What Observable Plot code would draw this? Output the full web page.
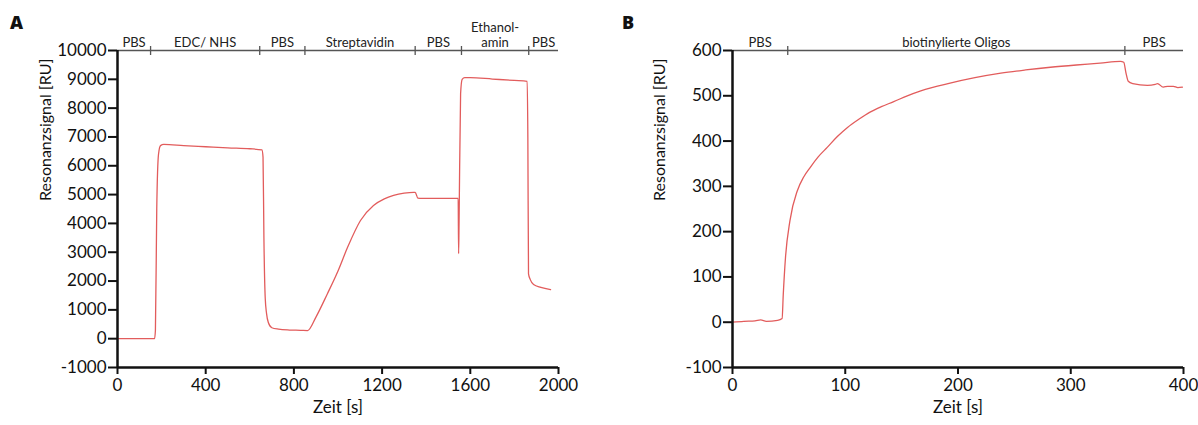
<!DOCTYPE html>
<html>
<head>
<meta charset="utf-8">
<script src="https://cdn.jsdelivr.net/npm/d3@7"></script>
<script src="https://cdn.jsdelivr.net/npm/@observablehq/plot@0.6"></script>
<style>
  html, body { margin: 0; padding: 0; background: #fff; }
  #wrap { position: relative; width: 1198px; height: 425px; overflow: hidden; font-family: Lato, "Open Sans", sans-serif; }
  .panel { position: absolute; top: 0; width: 599px; height: 425px; }
  .letter { position: absolute; top: 10px; font-weight: 900; font-size: 18px; font-family: "Open Sans", Lato, sans-serif; color: #111; }
</style>
</head>
<body>
<div id="wrap">
  <div class="panel" id="pa" style="left:0"></div>
  <div class="panel" id="pb" style="left:599px"></div>
  <div class="letter" style="left:10px">A</div>
  <div class="letter" style="left:622px">B</div>
</div>
<script>
// ---- Panel A data ----
const aTime   = [0, 100, 168, 172, 178, 186, 195, 210, 300, 400, 500, 600, 655, 660, 664, 670, 676, 684, 700, 730, 780, 830, 862, 900, 952, 1000, 1043, 1102, 1161, 1210, 1252, 1300, 1343, 1350, 1362, 1380, 1450, 1545, 1547, 1549, 1556, 1563, 1575, 1600, 1700, 1800, 1858, 1861, 1864, 1872, 1887, 1920, 1964];
const aSignal = [0, 0, 0, 300, 4500, 6400, 6700, 6740, 6700, 6660, 6620, 6590, 6550, 6300, 3500, 1400, 870, 560, 380, 330, 300, 290, 280, 750, 1560, 2350, 3160, 4100, 4620, 4850, 4970, 5050, 5080, 5080, 4880, 4870, 4870, 4870, 2950, 4000, 8500, 9000, 9060, 9060, 9010, 8960, 8930, 7000, 2250, 2050, 1880, 1780, 1700];
const aXTicks = [0, 400, 800, 1200, 1600, 2000];
const aYTicks = [-1000, 0, 1000, 2000, 3000, 4000, 5000, 6000, 7000, 8000, 9000, 10000];
const aXDomain = [0, 2000];
const aYDomain = [-1000, 10000];
const aPhaseBounds = [150, 645, 850, 1350, 1560, 1865];
const aPhaseLabels = ["PBS", "EDC/ NHS", "PBS", "Streptavidin", "PBS", "Ethanol-\namin", "PBS"];

// ---- Panel B data ----
const bTime   = [0, 10, 20, 25, 30, 40, 44, 45, 47, 51, 57.6, 63, 69, 76, 84, 93, 102, 112, 122, 132, 143, 155, 167, 193, 215, 238, 260, 282, 305, 326, 344, 347, 349, 351, 355, 368, 375, 377, 382, 386, 391, 395, 399];
const bSignal = [0, 2, 3, 5, 2, 4, 8, 60, 143, 225, 291, 320, 342, 365, 386, 410, 430, 448, 464, 476, 487, 500, 511, 528, 540, 550, 557, 563, 568, 572, 576, 574, 550, 532, 527, 523, 525, 527, 519, 521, 521, 518, 519];
const bXTicks = [0, 100, 200, 300, 400];
const bYTicks = [-100, 0, 100, 200, 300, 400, 500, 600];
const bXDomain = [0, 400];
const bYDomain = [-100, 600];
const bPhaseBounds = [49, 348];
const bPhaseLabels = ["PBS", "biotinylierte Oligos", "PBS"];

const xLabel = "Zeit [s]";
const yLabel = "Resonanzsignal [RU]";

function panel(time, signal, xTicks, yTicks, xDomain, yDomain, bounds, labels, marginLeft, marginRight, yLabelX) {
  const data = time.map((t, i) => ({t, v: signal[i]}));
  const edges = [xDomain[0], ...bounds, xDomain[1]];
  const phases = labels.map((l, i) => ({label: l, mid: (edges[i] + edges[i + 1]) / 2}));
  const top = yDomain[1];
  return Plot.plot({
    width: 599,
    height: 425,
    marginLeft,
    marginRight,
    marginTop: 50,
    marginBottom: 58,
    style: {fontFamily: "Lato, 'Open Sans', sans-serif", background: "white", color: "#111"},
    x: {domain: xDomain},
    y: {domain: yDomain},
    marks: [
      Plot.ruleY([top], {stroke: "#555", strokeWidth: 1.5}),
      Plot.ruleX(bounds, {x: d => d, y1: top, y2: top, insetTop: -4, insetBottom: -5, stroke: "#555", strokeWidth: 1.3}),
      Plot.text(phases, {x: "mid", y: () => top, text: "label", dy: -4, lineAnchor: "bottom", fontSize: 13, fill: "#222", lineHeight: 1.15}),
      Plot.line(data, {x: "t", y: "v", stroke: "#e25c5c", strokeWidth: 1.3, curve: "monotone-x"}),
      Plot.ruleX([xDomain[0]], {stroke: "#111", strokeWidth: 2.5}),
      Plot.ruleY([yDomain[0]], {stroke: "#111", strokeWidth: 2.5}),
      Plot.axisY({ticks: yTicks, tickSize: 9, tickPadding: 2, tickFormat: d => String(d), fontSize: 17, strokeWidth: 2, label: null, stroke: "#111"}),
      Plot.axisX({ticks: xTicks, tickSize: 7, tickPadding: 4, tickFormat: d => String(d), fontSize: 17, strokeWidth: 2, label: null, stroke: "#111"}),
      Plot.text([xLabel], {frameAnchor: "bottom", dy: 45, fontSize: 17, fill: "#111"}),
      Plot.text([yLabel], {frameAnchor: "left", rotate: -90, dx: -marginLeft + yLabelX, dy: -8, fontSize: 16, fill: "#111"})
    ]
  });
}

document.getElementById("pa").appendChild(panel(aTime, aSignal, aXTicks, aYTicks, aXDomain, aYDomain, aPhaseBounds, aPhaseLabels, 117, 41, 45));
document.getElementById("pb").appendChild(panel(bTime, bSignal, bXTicks, bYTicks, bXDomain, bYDomain, bPhaseBounds, bPhaseLabels, 133, 15, 60));
</script>
</body>
</html>
